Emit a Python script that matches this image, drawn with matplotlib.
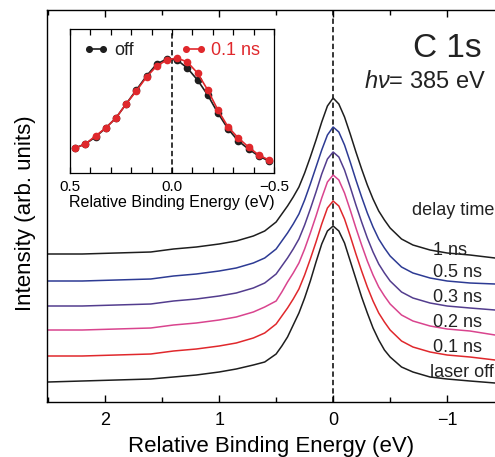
import matplotlib
matplotlib.use("Agg")
import matplotlib.pyplot as plt
from matplotlib.ticker import MultipleLocator, FixedLocator

plt.rcParams['font.family'] = ['Liberation Sans', 'DejaVu Sans']
plt.rcParams['mathtext.fontset'] = 'custom'
plt.rcParams['mathtext.it'] = 'Liberation Sans:italic'
plt.rcParams['mathtext.rm'] = 'Liberation Sans'

# ---------------- data (main panel) ----------------
energy = [2.5, 2.2, 1.9, 1.6, 1.4, 1.2, 1.0, 0.85, 0.7, 0.6, 0.5, 0.45, 0.4, 0.35,
          0.3, 0.25, 0.2, 0.15, 0.1, 0.05, 0.0, -0.05, -0.1, -0.15, -0.2, -0.25,
          -0.3, -0.35, -0.4, -0.45, -0.5, -0.6, -0.7, -0.85, -1.0, -1.2, -1.42]

laser_off = [20, 21, 22, 23, 25, 27, 30, 33, 37, 40, 48, 56, 65, 77, 89, 104, 121, 140,
             158, 171, 176, 171, 159, 141, 123, 105, 89, 74, 62, 52, 45, 35, 30, 25, 23, 21, 19]
ns_0_1 = [46, 46, 47, 48, 51, 53, 56, 59, 64, 69, 78, 86, 94, 103, 113, 127, 143, 160,
          178, 194, 201, 196, 183, 166, 148, 131, 115, 101, 89, 80, 72, 61, 55, 50, 47, 45, 42]
ns_0_2 = [72, 72, 73, 74, 77, 79, 82, 85, 90, 95, 101, 110, 120, 129, 139, 153, 169, 186,
          204, 220, 227, 222, 209, 192, 174, 157, 141, 127, 115, 106, 98, 87, 81, 76, 73, 71, 67]
ns_0_3 = [96, 96, 97, 98, 101, 103, 106, 109, 114, 119, 128, 136, 144, 153, 163, 177, 193,
          210, 228, 243, 250, 245, 232, 215, 197, 180, 164, 150, 138, 129, 121, 110, 104, 99,
          96, 94, 92]
ns_0_5 = [121, 121, 122, 123, 126, 128, 131, 134, 139, 144, 153, 161, 169, 178, 188, 202,
          218, 235, 252, 267, 275, 270, 257, 240, 222, 205, 189, 175, 163, 154, 146, 135, 129,
          124, 121, 119, 118]
ns_1 = [148, 148, 149, 150, 153, 155, 158, 161, 166, 171, 180, 188, 196, 205, 215, 229, 245,
        262, 280, 296, 304, 298, 285, 268, 250, 233, 217, 203, 191, 182, 174, 163, 157, 152,
        149, 147, 144]

series_labels = ['laser off', '0.1 ns', '0.2 ns', '0.3 ns', '0.5 ns', '1 ns']
series_values = [laser_off, ns_0_1, ns_0_2, ns_0_3, ns_0_5, ns_1]
series_colors = ['#1e1e1e', '#e0282c', '#d9448e', '#533d8e', '#2d3b94', '#1e1e1e']

# ---------------- data (inset) ----------------
inset_energy = [0.475, 0.425, 0.375, 0.325, 0.275, 0.225, 0.175, 0.125, 0.075, 0.025,
                -0.025, -0.075, -0.125, -0.175, -0.225, -0.275, -0.325, -0.375, -0.425, -0.475]
inset_off = [25, 29, 36, 45, 55, 69, 83, 97, 109, 114, 113, 105, 93, 78, 60, 44, 32, 24, 17, 12]
inset_01 = [25, 29, 37, 45, 55, 69, 82, 96, 107, 113, 115, 111, 100, 83, 63, 46, 35, 26, 18, 13]

main_ticks = [2, 1, 0, -1]
inset_ticks = [0.5, 0.0, -0.5]

# ---------------- figure ----------------
fig = plt.figure(figsize=(4.95, 4.57), dpi=100)
ax = fig.add_axes([47 / 495, 55 / 457, 1 - 47 / 495, 392 / 457])

for vals, col in zip(series_values, series_colors):
    ax.plot(energy, vals, color=col, lw=1.1)

ax.axvline(0, color='black', lw=1.1, ls=(0, (3.5, 2)), zorder=0)

ax.set_xlim(2.51, -1.42)
ax.set_ylim(0, 392)
ax.set_yticks([])
ax.xaxis.set_major_locator(FixedLocator(main_ticks))
ax.xaxis.set_minor_locator(MultipleLocator(0.5))
ax.tick_params(axis='x', which='both', direction='in', top=True, labelsize=13, pad=7)
ax.tick_params(axis='x', which='major', length=5, width=1)
ax.tick_params(axis='x', which='minor', length=3.5, width=1)
ax.spines['right'].set_visible(False)
for s in ['left', 'top', 'bottom']:
    ax.spines[s].set_linewidth(1.0)

ax.set_xlabel('Relative Binding Energy (eV)', fontsize=16, labelpad=5)
ax.set_ylabel('Intensity (arb. units)', fontsize=16)
ax.yaxis.set_label_coords(-0.024, 0.481)

# right-hand labels
label_baselines = [25, 50, 75, 100, 125, 147]
for lab, yb in zip(series_labels, label_baselines):
    xl = -0.85 if lab == 'laser off' else -0.88
    ax.text(xl, yb, lab, fontsize=13, ha='left', va='baseline', color='#222222')
ax.text(-0.69, 187, 'delay time', fontsize=13, ha='left', va='baseline', color='#222222')

ax.text(-1.0, 345, 'C 1s', fontsize=24, ha='center', va='baseline', color='#222222')
ax.text(-0.81, 314, r'$h\nu$= 385 eV', fontsize=17, ha='center', va='baseline', color='#222222')

# ---------------- inset ----------------
axi = fig.add_axes([70 / 495, (457 - 173) / 457, 204 / 495, 144 / 457])
axi.plot(inset_energy, inset_off, color='#1e1e1e', lw=1.2, marker='o', ms=4.5, label='off')
axi.plot(inset_energy, inset_01, color='#e0282c', lw=1.2, marker='o', ms=4.5, label='0.1 ns')
axi.axvline(0, color='black', lw=1.1, ls=(0, (3.5, 2)), zorder=0)
axi.set_xlim(0.5, -0.5)
axi.set_ylim(0, 144)
axi.set_yticks([])
axi.xaxis.set_major_locator(FixedLocator(inset_ticks))
axi.xaxis.set_minor_locator(MultipleLocator(0.1))
axi.tick_params(axis='x', which='both', direction='in', top=True, length=4.5, width=0.9,
                labelsize=11, pad=5)
axi.set_xticklabels(['0.5', '0.0', '\u22120.5'])
for s in axi.spines.values():
    s.set_linewidth(0.9)
axi.set_xlabel('Relative Binding Energy (eV)', fontsize=11.5, labelpad=1)
axi.legend(loc='upper center', bbox_to_anchor=(0.5, 1.02), ncol=2, frameon=False,
           fontsize=13, numpoints=2, handlelength=1.4, handletextpad=0.3,
           columnspacing=2.6, labelcolor='linecolor', markerscale=0.9)

fig.savefig('out.png', dpi=100)
